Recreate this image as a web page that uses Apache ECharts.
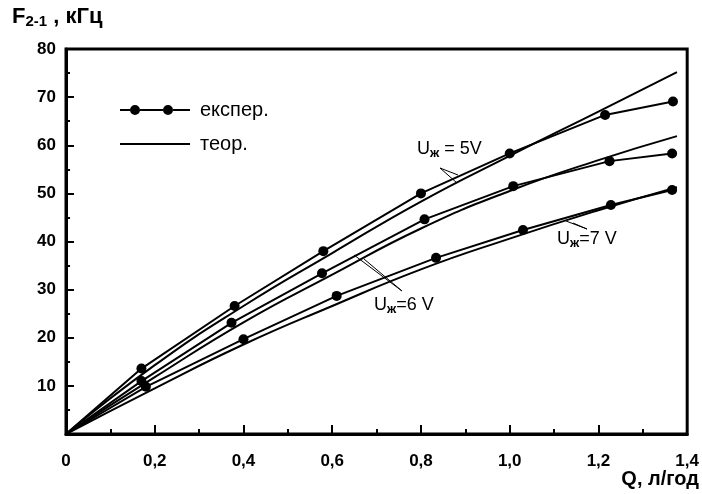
<!DOCTYPE html>
<html>
<head>
<meta charset="utf-8">
<script src="https://cdn.jsdelivr.net/npm/echarts@6/dist/echarts.min.js"></script>
<style>
html, body { margin: 0; padding: 0; background: #fff; }
#chart { width: 702px; height: 494px; }
</style>
</head>
<body>
<div id="chart"></div>
<script>
// experimental points (Q, l/h ; F2-1, kHz)
const expQ5V = [0, 0.17, 0.38, 0.58, 0.80, 1.00, 1.215, 1.368];
const expF5V = [0, 13.6, 26.6, 38.0, 50.0, 58.3, 66.3, 69.1];
const expQ6V = [0, 0.17, 0.373, 0.577, 0.808, 1.008, 1.225, 1.366];
const expF6V = [0, 11.0, 23.1, 33.4, 44.6, 51.5, 56.7, 58.3];
const expQ7V = [0, 0.18, 0.40, 0.61, 0.834, 1.03, 1.228, 1.366];
const expF7V = [0, 9.8, 19.7, 28.7, 36.6, 42.4, 47.6, 50.7];

// theoretical curves
const theoQ = [0, 0.2, 0.4, 0.6, 0.8, 1.0, 1.2, 1.377];
const theoF5V = [0, 14.3, 26.6, 37.6, 48.3, 57.8, 67.0, 75.2];
const theoF6V = [0, 11.8, 23.2, 33.1, 42.7, 50.5, 56.9, 61.9];
const theoF7V = [0, 9.5, 18.6, 26.6, 34.2, 40.6, 46.5, 51.3];

const xTicks = [0, 0.2, 0.4, 0.6, 0.8, 1.0, 1.2, 1.4];

const FONT = "'Liberation Sans', Arial, sans-serif";
const EXP_NAME = "експер.";
const THEO_NAME = "теор.";

function expData(qs, fs) {
	return qs.map(function(q, i) {
		// the line starts at the origin, but there is no measured point there
		if (i === 0) return { value: [q, fs[i]], symbol: "none" };
		return [q, fs[i]];
	});
}

function theoData(fs) {
	return theoQ.map(function(q, i) {
		return [q, fs[i]];
	});
}

function expSeries(qs, fs) {
	return {
		name: EXP_NAME,
		type: "line",
		data: expData(qs, fs),
		symbol: "circle",
		symbolSize: 10,
		itemStyle: { color: "#000" },
		lineStyle: { color: "#000", width: 2 },
		z: 3
	};
}

function theoSeries(fs) {
	return {
		name: THEO_NAME,
		type: "line",
		data: theoData(fs),
		smooth: true,
		symbol: "none",
		itemStyle: { color: "#000" },
		lineStyle: { color: "#000", width: 2 },
		z: 2
	};
}

function subLabel(main, sub, rest, size) {
	return {
		text: "{m|" + main + "}{s|" + sub + "}{r|" + rest + "}",
		rich: {
			m: { fontFamily: FONT, fontSize: size, fontWeight: "bold", fill: "#000" },
			s: { fontFamily: FONT, fontSize: Math.round(size * 0.7), fontWeight: "bold", fill: "#000", padding: [Math.round(size * 0.45), 0, 0, 0] },
			r: { fontFamily: FONT, fontSize: size, fontWeight: "bold", fill: "#000" }
		}
	};
}

function annoText(rest) {
	return {
		text: "{m|U}{s|ж}{r|" + rest + "}",
		rich: {
			m: { fontFamily: FONT, fontSize: 18, fill: "#000" },
			s: { fontFamily: FONT, fontSize: 13, fontWeight: "bold", fill: "#000", padding: [8, 0, 0, 0] },
			r: { fontFamily: FONT, fontSize: 18, fill: "#000" }
		}
	};
}

function leader(x1, y1, x2, y2) {
	return {
		type: "line",
		shape: { x1: x1, y1: y1, x2: x2, y2: y2 },
		style: { stroke: "#000", lineWidth: 1 }
	};
}

let expIcon = "path://M0,4H10V6H0Z M20,4H43V6H20Z M53,4H70V6H53Z " +
	"M10,5a5,5 0 1,0 10,0a5,5 0 1,0 -10,0Z M43,5a5,5 0 1,0 10,0a5,5 0 1,0 -10,0Z";
let theoIcon = "path://M0,0H70V2H0Z";

let option = {
	animation: false,
	backgroundColor: "#fff",
	grid: {
		left: 66,
		right: 11,
		top: 49,
		bottom: 60,
		show: true,
		borderColor: "#000",
		borderWidth: 3
	},
	legend: {
		orient: "vertical",
		left: 120,
		top: 100,
		padding: 0,
		itemWidth: 70,
		itemHeight: 10,
		itemGap: 14,
		symbolKeepAspect: true,
		textStyle: { fontFamily: FONT, fontSize: 20, color: "#000", padding: [0, 0, 0, 5] },
		data: [
			{ name: EXP_NAME, icon: expIcon },
			{ name: THEO_NAME, icon: theoIcon }
		]
	},
	xAxis: {
		type: "value",
		min: 0,
		max: 1.4,
		interval: 0.2,
		axisLine: { lineStyle: { color: "#000", width: 3 } },
		axisTick: { inside: true, length: 9, lineStyle: { color: "#000", width: 2 } },
		minorTick: { show: true, splitNumber: 2, length: 5, lineStyle: { color: "#000", width: 2 } },
		splitLine: { show: false },
		axisLabel: {
			margin: 19,
			fontFamily: FONT,
			fontSize: 17,
			fontWeight: "bold",
			color: "#000",
			formatter: function(v) {
				let t = xTicks.find(function(x) { return Math.abs(x - v) < 1e-6; });
				if (t === undefined) return "";
				return t === 0 ? "0" : t.toFixed(1).replace(".", ",");
			}
		}
	},
	yAxis: {
		type: "value",
		min: 0,
		max: 80,
		interval: 10,
		axisLine: { lineStyle: { color: "#000", width: 3 } },
		axisTick: { inside: true, length: 8, lineStyle: { color: "#000", width: 2 } },
		minorTick: { show: true, splitNumber: 2, length: 4, lineStyle: { color: "#000", width: 2 } },
		splitLine: { show: false },
		axisLabel: {
			margin: 10,
			fontFamily: FONT,
			fontSize: 17,
			fontWeight: "bold",
			color: "#000",
			formatter: function(v) {
				return v === 0 ? "" : String(v);
			}
		}
	},
	graphic: [
		{ type: "text", left: 12, top: 6, style: subLabel("F", "2-1", " , кГц", 22) },
		{ type: "text", right: 3, top: 469, style: { text: "Q, л/год", fontFamily: FONT, fontSize: 20, fontWeight: "bold", fill: "#000" } },
		{ type: "text", left: 417, top: 140, style: annoText(" = 5V") },
		{ type: "text", left: 374, top: 296, style: annoText("=6 V") },
		{ type: "text", left: 557, top: 230, style: annoText("=7 V") },
		leader(440, 168, 458, 175),
		leader(440, 168, 457, 183),
		leader(402, 291, 354, 255),
		leader(402, 291, 364, 259),
		leader(587, 229, 566, 221),
		leader(587, 229, 573, 223)
	],
	series: [
		theoSeries(theoF5V),
		theoSeries(theoF6V),
		theoSeries(theoF7V),
		expSeries(expQ5V, expF5V),
		expSeries(expQ6V, expF6V),
		expSeries(expQ7V, expF7V)
	]
};

let dom = document.getElementById("chart");
let chart = echarts.init(dom);
chart.setOption(option, true);
</script>
</body>
</html>
